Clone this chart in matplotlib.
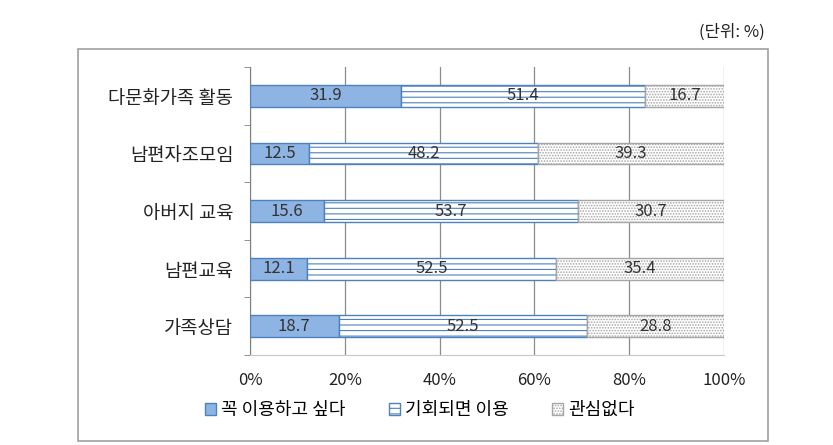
import matplotlib.pyplot as plt
from matplotlib.patches import Rectangle
import numpy as np

plt.rcParams['font.family'] = ['Noto Sans CJK KR', 'DejaVu Sans']
plt.rcParams['hatch.linewidth'] = 0.8

categories = ['다문화가족 활동', '남편자조모임', '아버지 교육', '남편교육', '가족상담']
want = [31.9, 12.5, 15.6, 12.1, 18.7]
maybe = [51.4, 48.2, 53.7, 52.5, 52.5]
no_interest = [16.7, 39.3, 30.7, 35.4, 28.8]
series_names = ['꼭 이용하고 싶다', '기회되면 이용', '관심없다']

fig = plt.figure(figsize=(8.33, 4.45), dpi=100)
fig.patches.append(Rectangle((0.0936, 0.009), 0.828, 0.881, transform=fig.transFigure,
                             fill=False, edgecolor='#a0a0a0', linewidth=1.2))
fig.text(0.918, 0.928, '(단위: %)', ha='right', va='center', fontsize=12, color='#222222')

ax = fig.add_axes([0.3001, 0.2022, 0.569, 0.647])

y = np.arange(len(categories))
h = 0.38
styles = [
    dict(color='#8db4e2', edgecolor='#4f81bd', hatch=None),
    dict(color='white', edgecolor='#4f81bd', hatch='---'),
    dict(color='white', edgecolor='#a6a6a6', hatch='......'),
]
left = np.zeros(len(categories))
for vals, name, st in zip([want, maybe, no_interest], series_names, styles):
    vals = np.array(vals)
    ax.barh(y, vals, left=left, height=h, color=st['color'],
            edgecolor=st['edgecolor'], hatch=st['hatch'], linewidth=1.0,
            label=name, zorder=3)
    for yi, l, v in zip(y, left, vals):
        ax.text(l + v / 2, yi, f'{v:.1f}', ha='center', va='center',
                fontsize=12, color='#333333', zorder=4)
    left = left + vals

ax.set_xlim(0, 100)
ax.set_ylim(len(categories) - 0.5, -0.5)
ax.set_xticks([0, 20, 40, 60, 80, 100])
ax.set_xticklabels(['0%', '20%', '40%', '60%', '80%', '100%'], fontsize=12, color='#222222')
ax.set_yticks(y)
ax.set_yticklabels(categories, fontsize=13.5, color='#222222')
ax.set_yticks(np.arange(len(categories) + 1) - 0.5, minor=True)
ax.tick_params(axis='y', which='major', length=0, pad=12)
ax.tick_params(axis='y', which='minor', length=4, color='#808080', direction='out')
ax.tick_params(axis='x', length=0, pad=12)
ax.grid(axis='x', color='#8c8c8c', linewidth=0.9, zorder=0)
for s in ['top', 'right']:
    ax.spines[s].set_visible(False)
ax.spines['left'].set_color('#808080')
ax.spines['bottom'].set_color('#c8c8c8')

fig.legend(*ax.get_legend_handles_labels(), loc='center left',
           bbox_to_anchor=(0.246, 0.078), ncol=3, frameon=False,
           fontsize=13, handlelength=0.6, handleheight=0.6, handletextpad=0.3,
           columnspacing=2.4, borderaxespad=0, borderpad=0)

fig.savefig('out.png', dpi=100)
